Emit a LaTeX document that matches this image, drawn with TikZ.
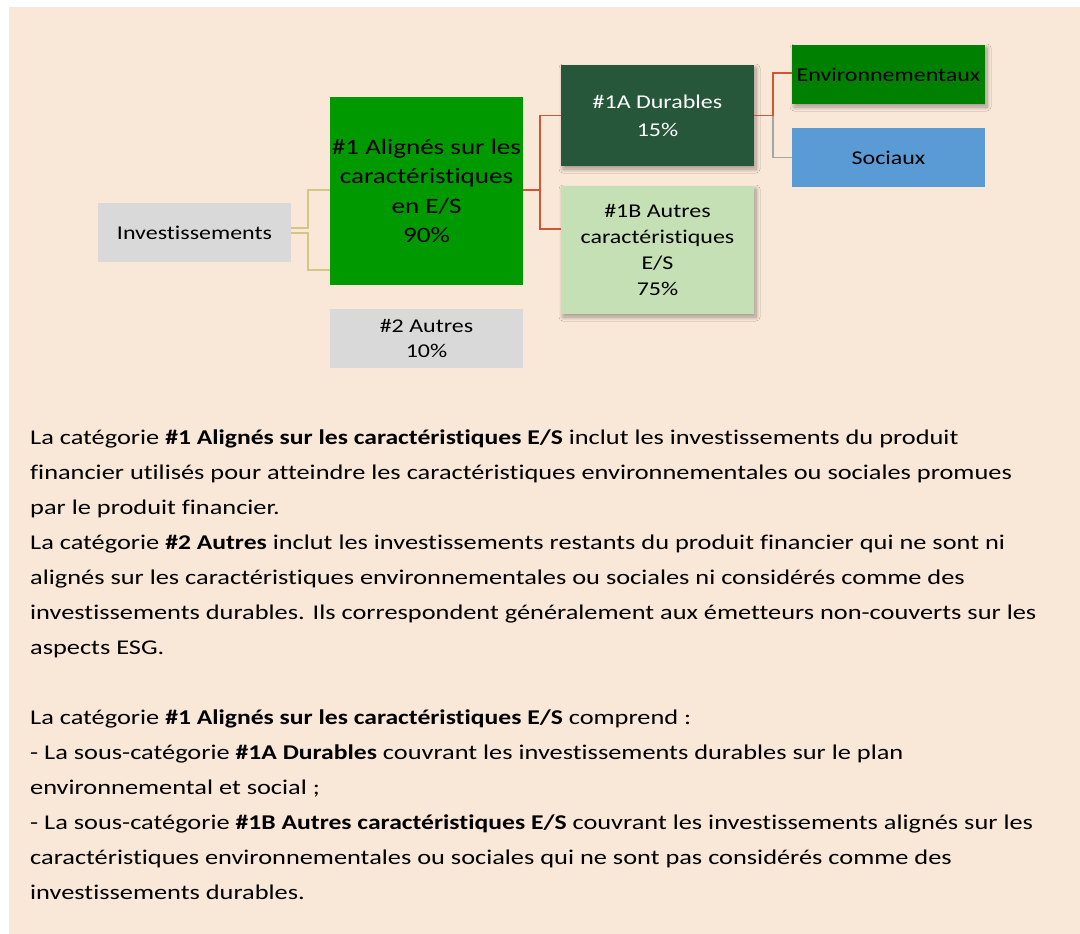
\documentclass[tikz,border=0pt]{standalone}
\usepackage{fontspec}
\setmainfont{Carlito}[FakeStretch=1.23, Ligatures=NoCommon]
\newfontfamily\bodyfont{Carlito}[FakeStretch=1.255, Ligatures=NoCommon, BoldFeatures={FakeStretch=1.22}]
\usetikzlibrary{shadows.blur}
\definecolor{peach}{HTML}{F9E7D7}
\definecolor{boxgray}{HTML}{D9D9D9}
\definecolor{green1}{HTML}{009900}
\definecolor{darkgreen}{HTML}{26573B}
\definecolor{lightgreen}{HTML}{C5E0B4}
\definecolor{envgreen}{HTML}{008000}
\definecolor{socblue}{HTML}{5B9BD5}
\definecolor{olivecon}{HTML}{D2C783}
\definecolor{redcon}{HTML}{CF5634}
\definecolor{graycon}{HTML}{A5A5A5}
\tikzset{
  box/.style={rectangle, inner sep=0pt, minimum width=193pt, align=center,
    font=\fontsize{19.5}{25}\selectfont},
  shad/.style={blur shadow={shadow xshift=2pt, shadow yshift=-3pt, shadow blur steps=8, shadow blur radius=4pt, shadow opacity=35}},
  body/.style={anchor=base west, inner sep=0pt, font=\bodyfont\fontsize{21}{35}\selectfont},
  cyel/.style={draw=olivecon, line width=1.6pt},
  cred/.style={draw=redcon, line width=1.6pt},
  cgray/.style={draw=graycon, line width=1.6pt}
}
\begin{document}
\begin{tikzpicture}[x=1pt, y=-1pt]
\useasboundingbox (0,0) rectangle (1080,934);
\fill[white] (0,0) rectangle (1080,934);
\fill[peach] (9,7) rectangle (1080,934);

\node[box, fill=boxgray, minimum height=59pt] (inv) at (194.5,232.5) {Investissements};
\node[box, fill=green1, minimum height=188pt, font=\fontsize{22}{29.5}\selectfont] (n1) at (426.5,191) {\#1 Alignés sur les\\caractéristiques\\en E/S\\90\%};
\node[box, fill=boxgray, minimum height=59pt] (n2) at (426.5,338.5) {\#2 Autres\\10\%};
\node[box, shad, fill=darkgreen, text=white, minimum height=101pt, font=\fontsize{19.5}{28}\selectfont] (a) at (657.5,115.5) {\#1A Durables\\15\%};
\node[box, shad, fill=lightgreen, minimum height=128pt, font=\fontsize{19.5}{26.3}\selectfont] (b) at (657.5,250) {\#1B Autres\\caractéristiques\\E/S\\75\%};
\node[box, shad, fill=envgreen, minimum height=59pt] (env) at (888.5,74.5) {Environnementaux};
\node[box, fill=socblue, minimum height=59pt] (soc) at (888.5,157.5) {Sociaux};

\draw[cyel] ([yshift=4.5pt]inv.east) -- ++(17,0) |- ([yshift=1pt]n1.west);
\draw[cyel] ([yshift=-0.5pt]inv.east) -- ++(17,0) |- ([yshift=-79pt]n1.west);
\draw[cred] ([yshift=1pt]n1.east) -- ++(17,0) |- (a.west);
\draw[cred] ([yshift=1pt]n1.east) -- ++(17,0) |- ([yshift=21pt]b.west);
\draw[cgray] ([xshift=19pt]a.east) |- (soc.west);
\draw[cred] (a.east) -- ++(19,0) |- ([yshift=1.5pt]env.west);

\node[body] (l1) at (30,444) {La catégorie \textbf{\#1 Alignés sur les caractéristiques E/S} inclut les investissements du produit};
\node[body] (l2) at (30,479) {financier utilisés pour atteindre les caractéristiques environnementales ou sociales promues};
\node[body] (l3) at (30,514) {par le produit financier.};
\node[body] (l4) at (30,549) {La catégorie \textbf{\#2 Autres} inclut les investissements restants du produit financier qui ne sont ni};
\node[body] (l5) at (30,584) {alignés sur les caractéristiques environnementales ou sociales ni considérés comme des};
\node[body] (l6) at (30,619) {investissements durables. Ils correspondent généralement aux émetteurs non-couverts sur les};
\node[body] (l7) at (30,654) {aspects ESG.};
\node[body] (l8) at (30,724) {La catégorie \textbf{\#1 Alignés sur les caractéristiques E/S} comprend :};
\node[body] (l9) at (30,759) {- La sous-catégorie \textbf{\#1A Durables} couvrant les investissements durables sur le plan};
\node[body] (l10) at (30,794) {environnemental et social ;};
\node[body] (l11) at (30,829) {- La sous-catégorie \textbf{\#1B Autres caractéristiques E/S} couvrant les investissements alignés sur les};
\node[body] (l12) at (30,864) {caractéristiques environnementales ou sociales qui ne sont pas considérés comme des};
\node[body] (l13) at (30,899) {investissements durables.};
\end{tikzpicture}
\end{document}
